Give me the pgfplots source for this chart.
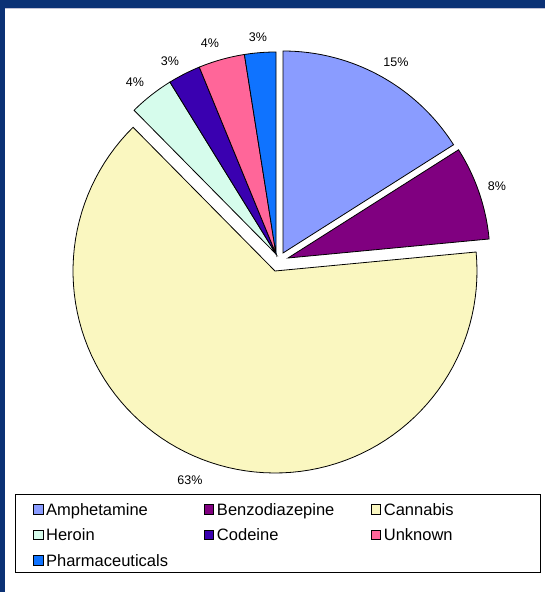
\documentclass[border=0pt]{standalone}
\usepackage{pgfplots}
\pgfplotsset{compat=1.18}
\usepackage{pgfplotstable}
\usepackage{fontspec}
\setmainfont{Liberation Sans}
\definecolor{amph}{HTML}{8A9CFF}
\definecolor{benz}{HTML}{800080}
\definecolor{cann}{HTML}{FAF7C0}
\definecolor{hero}{HTML}{D6FCEC}
\definecolor{code}{HTML}{3A00B0}
\definecolor{unkn}{HTML}{FF6699}
\definecolor{phar}{HTML}{0F73FF}
\definecolor{navy}{HTML}{0B3175}
\pgfplotstableread{
name value cx cy
Amphetamine 16.0 283 339
Benzodiazepine 7.5 288 334
Cannabis 64.1 275 321
Heroin 3.6 276 338
Codeine 2.6 276 338
Unknown 3.7 276 338
Pharmaceuticals 2.5 276 338
}\piedata
\begin{document}
\begin{tikzpicture}
\begin{axis}[
  scale only axis, width=545pt, height=592pt,
  xmin=0, xmax=545, ymin=0, ymax=592,
  hide axis, clip=false,
  legend columns=3,
  legend cell align=left,
  legend image code/.code={\draw[#1, draw=black, line width=0.5pt] (0pt,-2.9pt) rectangle (9.4pt,6.5pt);},
  legend style={draw=none, fill=none, inner sep=0pt, at={(33/545,89/592)}, anchor=north west,
    row sep=9.5pt,
    nodes={inner sep=0pt, text height=12pt, text depth=4pt, font=\fontsize{16.5}{19}\selectfont}},
]
\path (axis cs:0,0) rectangle (axis cs:545,592);
\xdef\acur{90}
\foreach \i/\col/\w in {0/amph/158,1/benz/154,2/cann/120,3/hero/158,4/code/154,5/unkn/120,6/phar/158}{
  \pgfplotstablegetelem{\i}{value}\of\piedata \let\v\pgfplotsretval
  \pgfplotstablegetelem{\i}{cx}\of\piedata \let\x\pgfplotsretval
  \pgfplotstablegetelem{\i}{cy}\of\piedata \let\y\pgfplotsretval
  \pgfplotstablegetelem{\i}{name}\of\piedata \let\nm\pgfplotsretval
  \pgfmathsetmacro{\anext}{\acur-3.6*\v}
  \edef\doslice{\noexpand\addplot[fill=\col, draw=black, line width=0.8pt, domain=\anext:\acur, samples=90, variable=\noexpand\t] ({\x+202*cos(\noexpand\t)},{\y+202*sin(\noexpand\t)}) -- (axis cs:\x,\y) -- cycle;
  \noexpand\addlegendentry{\noexpand\hspace{3pt}\noexpand\makebox[\w pt][l]{\nm}}}
  \doslice
  \xdef\acur{\anext}
}
% data labels
\node[font=\fontsize{12.5}{14}\selectfont] at (axis cs:396,530) {15\%};
\node[font=\fontsize{12.5}{14}\selectfont] at (axis cs:497,406) {8\%};
\node[font=\fontsize{12.5}{14}\selectfont] at (axis cs:190,112) {63\%};
\node[font=\fontsize{12.5}{14}\selectfont] at (axis cs:135,510) {4\%};
\node[font=\fontsize{12.5}{14}\selectfont] at (axis cs:170,531) {3\%};
\node[font=\fontsize{12.5}{14}\selectfont] at (axis cs:210,549) {4\%};
\node[font=\fontsize{12.5}{14}\selectfont] at (axis cs:258,555) {3\%};
% frame and legend box
\draw[black, line width=1pt] (axis cs:15,19) rectangle (axis cs:540,97);
\fill[navy] (axis cs:0,584) rectangle (axis cs:545,592);
\draw[blue!20!gray!40, line width=1pt] (axis cs:5,583.5) -- (axis cs:545,583.5);
\fill[navy] (axis cs:0,0) rectangle (axis cs:5,592);
\end{axis}
\end{tikzpicture}
\end{document}
